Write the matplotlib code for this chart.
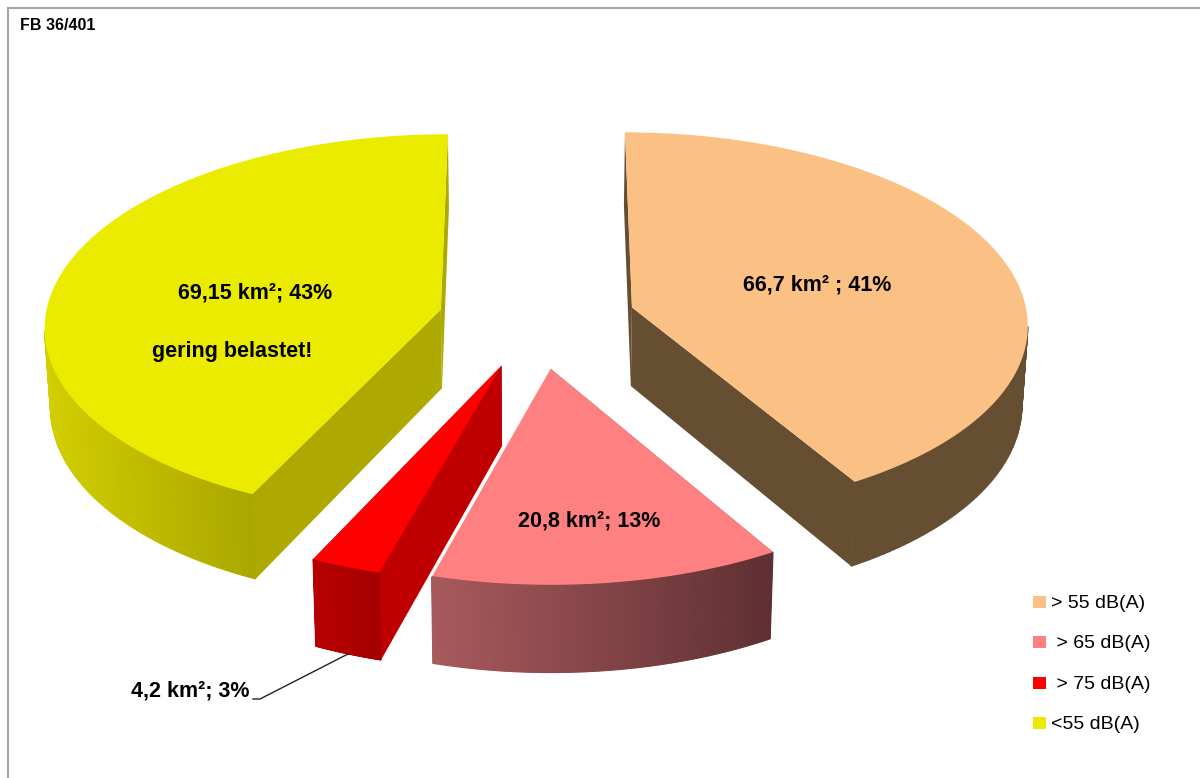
import matplotlib
matplotlib.use("Agg")
import matplotlib.pyplot as plt
import numpy as np
from matplotlib.colors import to_rgb

# Data
categories = ["> 55 dB(A)", " > 65 dB(A)", " > 75 dB(A)", "<55 dB(A)"]
areas_km2 = [66.7, 20.8, 4.2, 69.15]
area_labels = ["66,7 km² ; 41%", "20,8 km²; 13%", "4,2 km²; 3%", "69,15 km²; 43%"]
note_text = "gering belastet!"
corner_text = "FB 36/401"

# Colours
top_colors = ["#fbc084", "#ff8080", "#ff0000", "#ebeb00"]
wall_colors = ["#664e33", "#8a4a4e", "#c00000", "#ada900"]
rim_left_colors = ["#664e33", "#a85a5c", "#b80000", "#d2ce00"]
rim_right_colors = ["#664e33", "#5f2f33", "#a50000", "#aaa700"]

# Projection of the tilted pie (pixels)
CX, CY = 537, 320
RX, RY = 396, 191
PERSP = 0.08
EXPLODE = 0.25
DEPTH = 79
BOTTOM_SHRINK = 0.988

FONT = ["Liberation Sans", "DejaVu Sans"]


def project(x, y, lower=False):
    """World pie coordinates to screen pixels, optionally on the lower face"""
    f = 1 / (1 + PERSP * y)
    sx = RX * x * f
    sy = CY - RY * y * f
    if lower:
        return CX + sx * BOTTOM_SHRINK, sy + DEPTH * f
    return CX + sx, sy


def slice_points(start, end, lower=False, n=160):
    theta = np.linspace(start, end, n)
    mid = (start + end) / 2
    ox, oy = EXPLODE * np.sin(mid), EXPLODE * np.cos(mid)
    apex = project(ox, oy, lower)
    arc = project(ox + np.sin(theta), oy + np.cos(theta), lower)
    return apex, arc, theta


fig = plt.figure(figsize=(12, 7.78), dpi=100)
ax = fig.add_axes([0, 0, 1, 1])
ax.set_xlim(0, 1200)
ax.set_ylim(778, 0)
ax.axis("off")

# Frame of the original slide
ax.plot([1200, 8, 8], [8, 8, 778], color="#a4a4a4", lw=1.5, solid_joinstyle="miter")

angles = np.cumsum([0] + areas_km2) / np.sum(areas_km2) * 2 * np.pi

# Back slices first, front ones after
for i in [0, 3, 2, 1]:
    start, end = angles[i], angles[i + 1]
    apex, arc, theta = slice_points(start, end)
    apex_low, arc_low, _ = slice_points(start, end, lower=True)

    # side walls
    for k in [0, -1]:
        ax.fill(
            [apex[0], arc[0][k], arc_low[0][k], apex_low[0]],
            [apex[1], arc[1][k], arc_low[1][k], apex_low[1]],
            color=wall_colors[i],
            lw=0,
        )

    # outer rim, shaded left to right (only the part facing the viewer)
    left = np.array(to_rgb(rim_left_colors[i]))
    right = np.array(to_rgb(rim_right_colors[i]))
    front = np.cos(theta) < -0.1
    x_min, x_max = arc_low[0][front].min(), arc_low[0][front].max()
    for j in np.where(front)[0][:-1]:
        t = (arc_low[0][j] - x_min) / (x_max - x_min)
        col = left + (right - left) * t
        ax.fill(
            [arc[0][j], arc[0][j + 1], arc_low[0][j + 1], arc_low[0][j]],
            [arc[1][j], arc[1][j + 1], arc_low[1][j + 1], arc_low[1][j]],
            color=col,
            lw=0.8,
        )

    # top face
    ax.fill(
        np.r_[apex[0], arc[0]],
        np.r_[apex[1], arc[1]],
        color=top_colors[i],
        lw=0,
    )

    # white seam between the pink slice and the red wall
    if i == 1:
        ax.plot(
            [apex[0], arc[0][-1]], [apex[1], arc[1][-1]], color="white", lw=1.0
        )

# Labels on the slices
label_pos = [(817, 285), (589, 521), (190, 691), (255, 293)]
for text, (x, y) in zip(area_labels, label_pos):
    ax.text(
        x, y, text, family=FONT, fontsize=15.5, fontweight="bold",
        ha="center", va="center", color="black",
    )
ax.text(
    232, 351, note_text, family=FONT, fontsize=15.5, fontweight="bold",
    ha="center", va="center", color="black",
)
ax.text(
    20, 25, corner_text, family=FONT, fontsize=11.5, fontweight="bold",
    ha="left", va="center", color="black",
)

# Leader line of the small slice
ax.plot([253, 260, 348], [699, 699, 654], color="#222222", lw=1.0)

# Legend
legend_y = [602, 642, 683, 723]
for name, col, y in zip(categories, top_colors, legend_y):
    ax.fill([1033, 1045.5, 1045.5, 1033], [y - 6, y - 6, y + 6, y + 6], color=col, lw=0)
    ax.text(
        1051, y + 1.5, name, family=FONT, fontsize=14, ha="left", va="center", color="black",
    )

fig.savefig("out.png", dpi=100)
